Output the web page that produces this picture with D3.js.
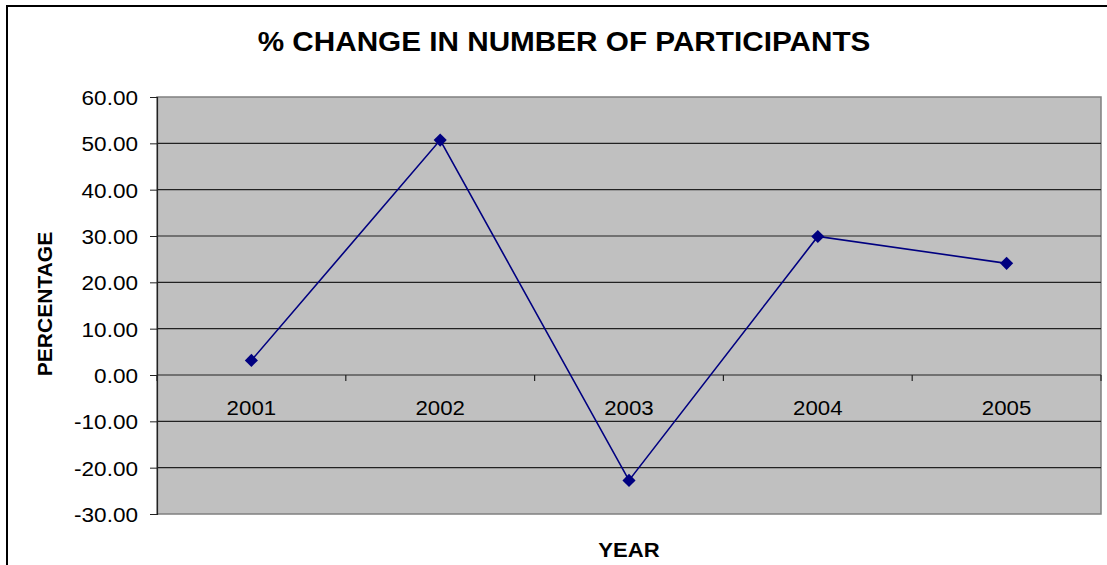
<!DOCTYPE html>
<html>
<head>
<meta charset="utf-8">
<script src="https://cdn.jsdelivr.net/npm/d3@7"></script>
<style>
    body { margin: 0; background: #fff; }
    text { font-family: "Liberation Sans", Arial, sans-serif; }
</style>
</head>
<body>
<div id="chart"></div>
<script>
const width = 1107
const height = 565

const years = ["2001", "2002", "2003", "2004", "2005"]
const changes = [3.15, 50.7, -22.75, 29.9, 24.1]
const yTicks = [60, 50, 40, 30, 20, 10, 0, -10, -20, -30]

const plot = { left: 157, top: 97, right: 1101, bottom: 514 }

const svg = d3.select("#chart").append("svg")
    .attr("width", width)
    .attr("height", height)

// stretch text a bit wider, like the source picture
function widen(sel, k) {
    sel.each((d, i, n) => {
        const w = n[i].getComputedTextLength()
        d3.select(n[i]).attr("textLength", w * k).attr("lengthAdjust", "spacingAndGlyphs")
    })
}

// outer chart frame (right and bottom run off the picture)
svg.append("rect")
    .attr("x", 7).attr("y", 6)
    .attr("width", width + 20).attr("height", height + 20)
    .style("fill", "#fff")
    .style("stroke", "#000")
    .style("stroke-width", 2)

const x = d3.scaleBand().domain(years).range([plot.left, plot.right]).padding(0)
const y = d3.scaleLinear().domain([-30, 60]).range([plot.bottom, plot.top])

// plot area
svg.append("rect")
    .attr("x", plot.left).attr("y", plot.top)
    .attr("width", plot.right - plot.left).attr("height", plot.bottom - plot.top)
    .style("fill", "#c0c0c0")
    .style("stroke", "#808080")
    .style("stroke-width", 1.5)

// horizontal grid lines
svg.append("g")
    .selectAll("line")
    .data(yTicks.filter(t => t != 60 && t != -30))
    .join("line")
    .attr("x1", plot.left).attr("x2", plot.right)
    .attr("y1", d => y(d)).attr("y2", d => y(d))
    .style("stroke", "#222")
    .style("stroke-width", 1.2)

// y axis
const fmt = d => d3.format(".2f")(d).replace("\u2212", "-")
const yAxis = svg.append("g")
    .attr("transform", `translate(${plot.left},0)`)
    .call(d3.axisLeft(y).tickValues(yTicks).tickFormat(fmt).tickSize(7).tickPadding(12))
yAxis.select(".domain").attr("stroke", "#222").attr("stroke-width", 1.2)
yAxis.selectAll(".tick line").attr("stroke", "#222")
yAxis.selectAll("text")
    .style("font-size", "20.5px")
    .style("fill", "#000")
    .attr("dy", "0.36em")
    .call(widen, 1.1)

// category axis on the zero line
const xTickPos = d3.range(years.length + 1).map(i => plot.left + i * x.bandwidth())
svg.append("g")
    .selectAll("line")
    .data(xTickPos)
    .join("line")
    .attr("x1", d => d).attr("x2", d => d)
    .attr("y1", y(0)).attr("y2", y(0) + 6)
    .style("stroke", "#222")
    .style("stroke-width", 1.2)

svg.append("g")
    .selectAll("text")
    .data(years)
    .join("text")
    .attr("x", d => x(d) + x.bandwidth() / 2)
    .attr("y", y(0) + 40)
    .attr("text-anchor", "middle")
    .style("font-size", "21px")
    .text(d => d)
    .call(widen, 1.06)

// series line + diamond markers
const points = years.map((yr, i) => ({ x: x(yr) + x.bandwidth() / 2, y: y(changes[i]) }))
const lineHelper = d3.line().x(d => d.x).y(d => d.y)

svg.append("path")
    .datum(points)
    .attr("d", lineHelper)
    .style("fill", "none")
    .style("stroke", "#000080")
    .style("stroke-width", 1.6)

svg.append("g")
    .selectAll("path")
    .data(points)
    .join("path")
    .attr("d", d3.symbol().type(d3.symbolDiamond2).size(110))
    .attr("transform", d => `translate(${d.x},${d.y})`)
    .style("fill", "#000080")

// titles
svg.append("text")
    .attr("x", 564).attr("y", 51)
    .attr("text-anchor", "middle")
    .style("font-size", "27px")
    .style("font-weight", "bold")
    .text("% CHANGE IN NUMBER OF PARTICIPANTS")
    .call(widen, 1.1)

svg.append("text")
    .attr("x", 629).attr("y", 557)
    .attr("text-anchor", "middle")
    .style("font-size", "21px")
    .style("font-weight", "bold")
    .text("YEAR")
    .call(widen, 1.05)

svg.append("text")
    .attr("transform", "translate(52,304) rotate(-90)")
    .attr("text-anchor", "middle")
    .style("font-size", "21px")
    .style("font-weight", "bold")
    .text("PERCENTAGE")
</script>
</body>
</html>
